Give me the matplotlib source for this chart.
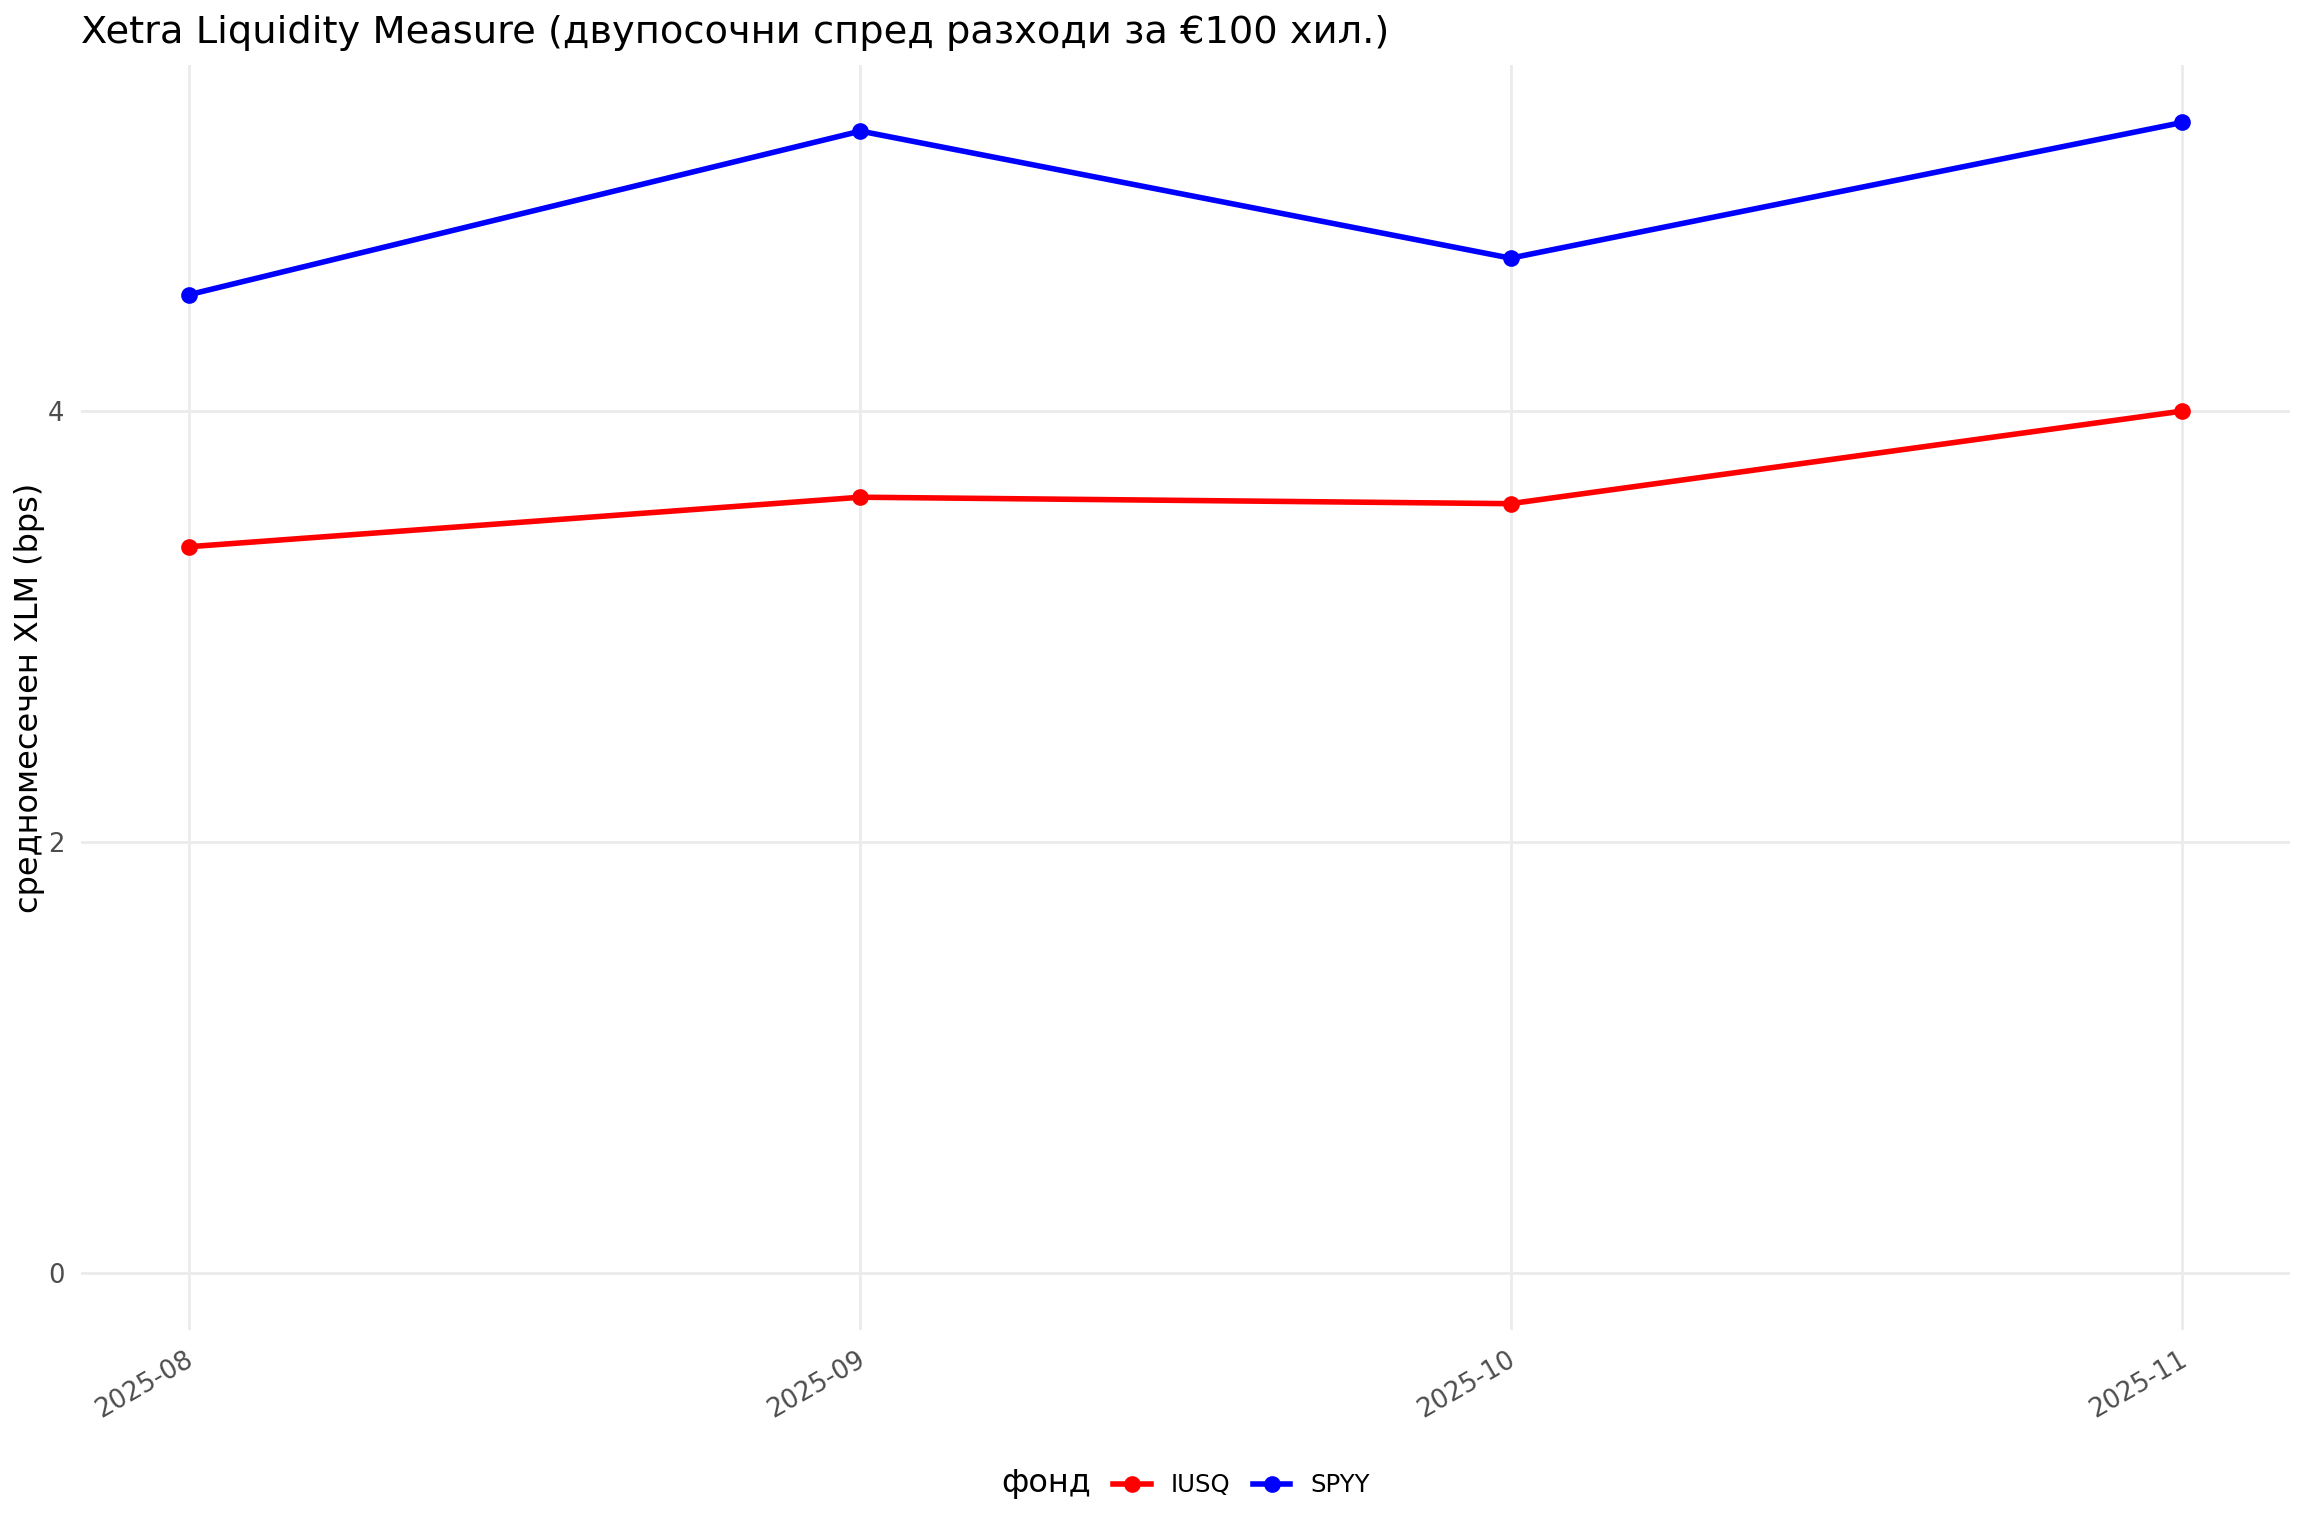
import matplotlib
matplotlib.use("Agg")
import matplotlib.pyplot as plt
import matplotlib.dates as mdates
import matplotlib.transforms as mtransforms
import numpy as np
import datetime as dt

plt.rcParams['font.family'] = ['DejaVu Sans']

months = ["2025-08", "2025-09", "2025-10", "2025-11"]
funds = ["IUSQ", "SPYY"]
iusq = [3.37, 3.60, 3.57, 4.00]
spyy = [4.54, 5.30, 4.71, 5.34]
colors = {"IUSQ": "#FF0000", "SPYY": "#0000FF"}
title = "Xetra Liquidity Measure (двупосочни спред разходи за €100 хил.)"
ylabel = "средномесечен XLM (bps)"
legend_title = "фонд"

dates = [dt.datetime.strptime(m + "-01", "%Y-%m-%d") for m in months]
values = {"IUSQ": iusq, "SPYY": spyy}

fig = plt.figure(figsize=(11.52, 7.68), dpi=200)
ax = fig.add_axes([0.0352, 0.1341, 0.9939 - 0.0352, 0.9577 - 0.1341])

for f in funds:
    ax.plot(dates, values[f], color=colors[f], lw=2.0, marker='o', ms=5.0, label=f, zorder=3)

ymax = max(max(iusq), max(spyy))
pad = 0.05 * ymax
ax.set_ylim(-pad, ymax + pad)
ax.set_yticks([0, 2, 4])
ax.margins(x=0.054)

ax.xaxis.set_major_locator(mdates.MonthLocator())
ax.xaxis.set_major_formatter(mdates.DateFormatter("%Y-%m"))

for s in ax.spines.values():
    s.set_visible(False)
ax.grid(True, color="#EBEBEB", lw=1.0)
ax.set_axisbelow(True)
ax.tick_params(axis='both', length=0, labelsize=9.3, labelcolor="#4D4D4D", pad=6)
offset = mtransforms.ScaledTranslation(9 / 200, 0, fig.dpi_scale_trans)
for lab in ax.get_xticklabels():
    lab.set_rotation(30)
    lab.set_ha('right')
    lab.set_transform(lab.get_transform() + offset)

ax.set_title(title, loc='left', fontsize=13.8, pad=8)
ax.set_ylabel(ylabel, fontsize=11.5, labelpad=1)

leg = ax.legend(title=legend_title, loc='center', bbox_to_anchor=(0.5145, 0.034),
                bbox_transform=fig.transFigure,
                ncol=2, frameon=False, fontsize=8.8, title_fontsize=11.5,
                handlelength=1.55, columnspacing=0.85, handletextpad=0.8)
c = leg.get_children()[0]
title_box = c.get_children()[0]
hpack = c.get_children()[1]
c._children = [hpack]
hpack._children = [title_box] + hpack.get_children()
hpack.sep = 8

fig.savefig("out.png", dpi=200)
